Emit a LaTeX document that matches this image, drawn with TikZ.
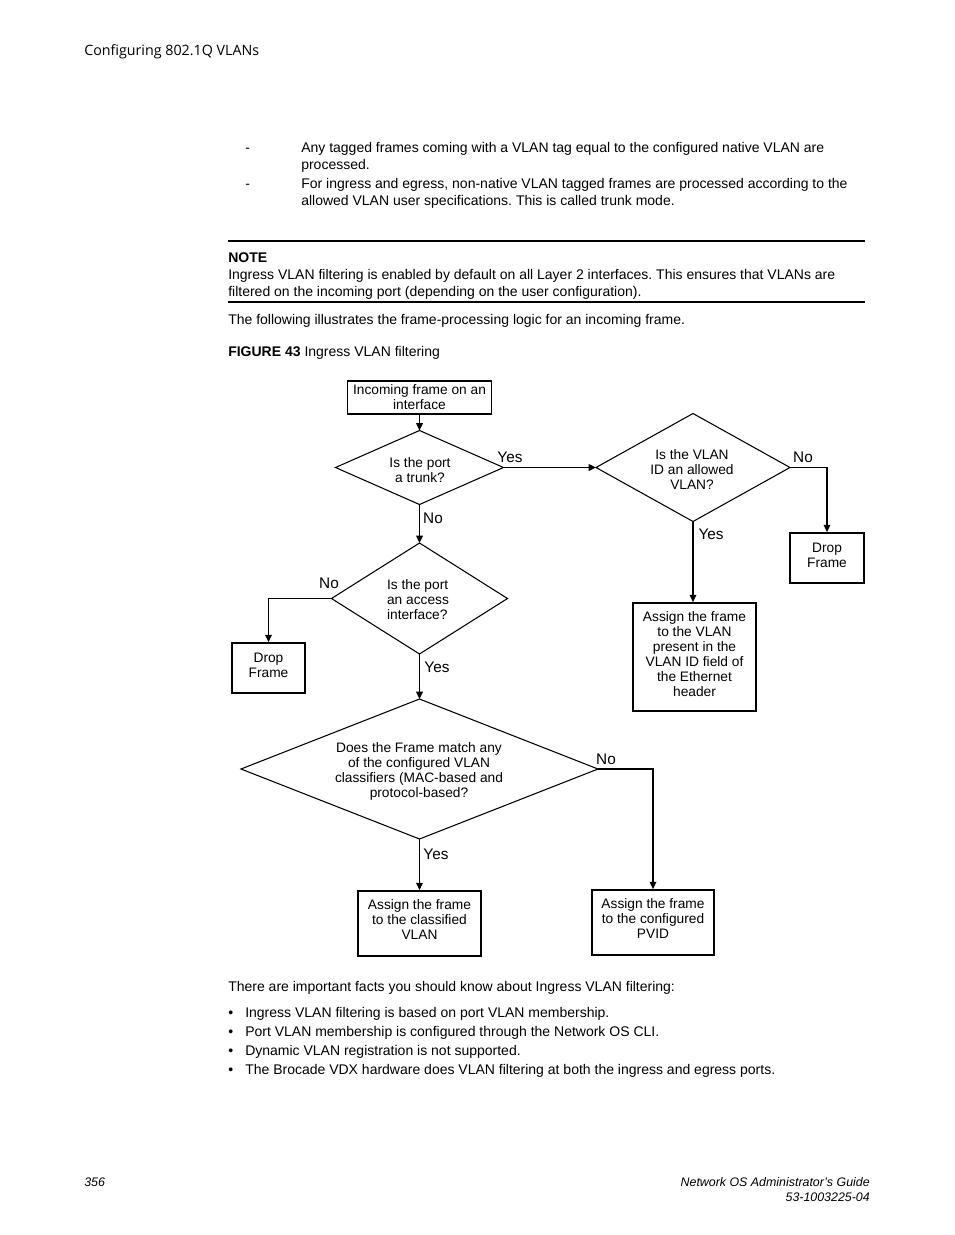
\documentclass[tikz,border=0pt]{standalone}
\usepackage{fontspec}
\setmainfont{Liberation Sans}
\newfontfamily\headfont{Open Sans}
\usetikzlibrary{arrows.meta,shapes.geometric}
\newlength\pxl
\pxl=0.75pt
\frenchspacing
\begin{document}
\begin{tikzpicture}[x=0.75pt,y=-0.75pt,
  body/.style={anchor=base west,inner sep=0pt,font=\fontsize{10.5}{12}\selectfont},
  fbox/.style={draw,line width=1.3pt,rectangle,inner sep=0pt},
  dia/.style={draw,line width=0.8pt,diamond,inner sep=0pt,outer sep=0pt},
  dtext/.style={inner sep=0pt,align=center,font=\fontsize{10.3}{11.25}\selectfont},
  lab/.style={inner sep=0pt,font=\fontsize{11.5}{12}\selectfont},
  conn/.style={line width=1pt},
  arr/.style={conn,-{Triangle[length=5.5pt,width=5pt]}},
  rulel/.style={line width=1.6pt}
]
\useasboundingbox (0,0) rectangle (954,1235);
% header
\node[anchor=base west,inner sep=0pt,font=\headfont\fontsize{10.7}{12}\selectfont] (hdr) at (84,55) {Configuring 802.1Q VLANs};
% body text
\node[body] (d1m) at (245,152) {-};
\node[body] (t1) at (301,152) {Any tagged frames coming with a VLAN tag equal to the configured native VLAN are};
\node[body] (t2) at (301,169) {processed.};
\node[body] (d2m) at (245,188) {-};
\node[body] (t3) at (301,188) {For ingress and egress, non-native VLAN tagged frames are processed according to the};
\node[body] (t4) at (301,205) {allowed VLAN user specifications. This is called trunk mode.};
\coordinate (r1a) at (228,241); \coordinate (r1b) at (865,241);
\draw[rulel] (r1a) -- (r1b);
\node[body,font=\bfseries\fontsize{10.5}{12}\selectfont] (note) at (228,262) {NOTE};
\node[body] (n1) at (228,279) {Ingress VLAN filtering is enabled by default on all Layer 2 interfaces. This ensures that VLANs are};
\node[body] (n2) at (228,296) {filtered on the incoming port (depending on the user configuration).};
\coordinate (r2a) at (228,302); \coordinate (r2b) at (865,302);
\draw[rulel] (r2a) -- (r2b);
\node[body] (f1) at (228,324) {The following illustrates the frame-processing logic for an incoming frame.};
\node[body] (cap) at (228,356) {\textbf{FIGURE 43} Ingress VLAN filtering};

% flowchart boxes
\node[fbox,minimum width=144\pxl,minimum height=33\pxl] (n0) at (419.5,397.5) {};
\node[dtext] (n0t) at (419.5,397.5) {Incoming frame on an\\interface};
\node[dia,minimum width=168\pxl,minimum height=74\pxl] (q1) at (419.5,467.5) {};
\node[dtext] (q1t) at (420,470) {Is the port\\a trunk?};
\node[dia,minimum width=194\pxl,minimum height=108\pxl] (q2) at (693,467.5) {};
\node[dtext] (q2t) at (692,470) {Is the VLAN\\ID an allowed\\VLAN?};
\node[fbox,minimum width=74\pxl,minimum height=50\pxl] (dr) at (827,558) {};
\node[dtext] (drt) at (827,555) {Drop\\Frame};
\node[fbox,minimum width=123\pxl,minimum height=108\pxl] (a2) at (694.5,657) {};
\node[dtext] (a2t) at (694.5,654) {Assign the frame\\to the VLAN\\present in the\\VLAN ID field of\\the Ethernet\\header};
\node[dia,minimum width=176\pxl,minimum height=111\pxl] (q3) at (419.5,598.5) {};
\node[dtext,align=left] (q3t) at (418,600) {Is the port\\an access\\interface?};
\node[fbox,minimum width=73\pxl,minimum height=50\pxl] (dl) at (268.5,668) {};
\node[dtext] (dlt) at (268.5,665) {Drop\\Frame};
\node[dia,minimum width=357\pxl,minimum height=140\pxl] (q4) at (419.5,769) {};
\node[dtext] (q4t) at (419,771) {Does the Frame match any\\of the configured VLAN\\classifiers (MAC-based and\\protocol-based?};
\node[fbox,minimum width=123\pxl,minimum height=65\pxl] (bc) at (419.5,923.5) {};
\node[dtext] (bct) at (419.5,920) {Assign the frame\\to the classified\\VLAN};
\node[fbox,minimum width=122\pxl,minimum height=65\pxl] (bp) at (653,922.5) {};
\node[dtext] (bpt) at (653,919) {Assign the frame\\to the configured\\PVID};

% connectors
\draw[arr] (n0.south) -- (q1.north);
\draw[arr] (q1.east) -- (q2.west);
\draw[arr] (q2.east) -| (dr.north);
\draw[arr] (q2.south) -- (q2.south |- a2.north);
\draw[arr] (q1.south) -- (q3.north);
\draw[arr] (q3.west) -| (dl.north);
\draw[arr] (q3.south) -- (q4.north);
\draw[arr] (q4.east) -| (bp.north);
\draw[arr] (q4.south) -- (bc.north);

% labels
\node[lab] (l1) at (510,457) {Yes};
\node[lab] (l2) at (803,457) {No};
\node[lab] (l3) at (711,534) {Yes};
\node[lab] (l4) at (433,518) {No};
\node[lab] (l5) at (329,583) {No};
\node[lab] (l6) at (437,667) {Yes};
\node[lab] (l7) at (606,759) {No};
\node[lab] (l8) at (436,854) {Yes};

% after diagram
\node[body] (p1) at (228,991) {There are important facts you should know about Ingress VLAN filtering:};
\node[body] (b1) at (228,1017) {•};
\node[body] (bt1) at (245,1017) {Ingress VLAN filtering is based on port VLAN membership.};
\node[body] (b2) at (228,1036) {•};
\node[body] (bt2) at (245,1036) {Port VLAN membership is configured through the Network OS CLI.};
\node[body] (b3) at (228,1055) {•};
\node[body] (bt3) at (245,1055) {Dynamic VLAN registration is not supported.};
\node[body] (b4) at (228,1074) {•};
\node[body] (bt4) at (245,1074) {The Brocade VDX hardware does VLAN filtering at both the ingress and egress ports.};

% footer
\node[anchor=base west,inner sep=0pt,font=\itshape\fontsize{9.3}{11}\selectfont] (pg) at (84,1186) {356};
\node[anchor=base east,inner sep=0pt,font=\itshape\fontsize{9.3}{11}\selectfont] (g1) at (870,1186) {Network OS Administrator’s Guide};
\node[anchor=base east,inner sep=0pt,font=\itshape\fontsize{9.3}{11}\selectfont] (g2) at (870,1201) {53-1003225-04};
\end{tikzpicture}
\end{document}
